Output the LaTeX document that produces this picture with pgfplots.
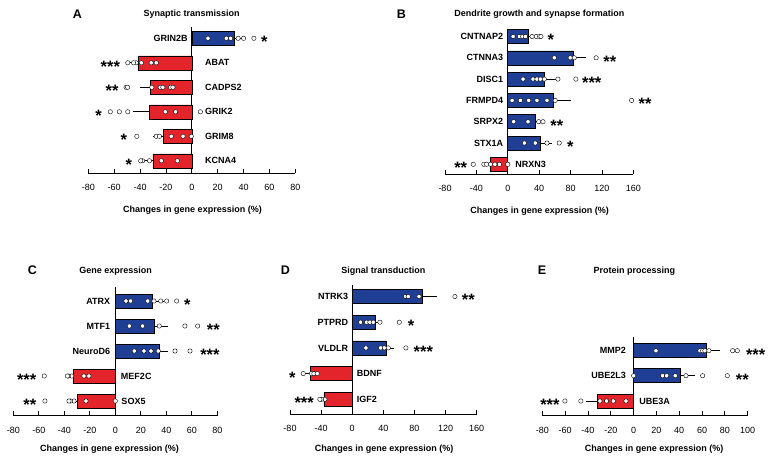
\documentclass[border=0pt]{standalone}
\usepackage{fontspec}
\setmainfont{Liberation Sans}
\usepackage{pgfplots}
\pgfplotsset{compat=1.18}
\definecolor{barblue}{HTML}{1F3F95}
\definecolor{barred}{HTML}{E3242B}
\newcommand{\nf}{\fontsize{9bp}{10.5bp}\selectfont}
\pgfplotsset{
  panel/.style={
    scale only axis, anchor=south west,
    enlargelimits=false, clip=false,
    axis x line=bottom, axis y line=none,
    x axis line style={-, line width=0.8bp},
    tick align=inside, major tick length=4.5bp,
    tick style={black, line width=0.8bp},
    ytick=\empty,
    xticklabel style={font=\nf, yshift=-7.5bp},
    /pgf/number format/assume math mode=true,
    extra x ticks={0}, extra x tick labels={},
    extra x tick style={grid=major, major grid style={black, line width=0.8bp}},
  },
  posbar/.style={xbar, bar width=14, fill=barblue, draw=black, line width=0.6bp,
    error bars/.cd, x dir=plus, x explicit,
    error bar style={black, line width=0.8bp},
    error mark options={black, mark size=3.8bp, line width=0.8bp}},
  negbar/.style={xbar, bar width=14, fill=barred, draw=black, line width=0.6bp,
    error bars/.cd, x dir=minus, x explicit,
    error bar style={black, line width=0.8bp},
    error mark options={black, mark size=3.8bp, line width=0.8bp}},
  dots/.style={only marks, mark=*, mark size=2.2bp,
    mark options={fill=white, draw=black, line width=0.4bp}},
}
\tikzset{
  st/.style={font=\fontsize{16.5bp}{16.5bp}\selectfont\bfseries, yshift=-3.8bp, inner sep=0},
  gl/.style={font=\nf\bfseries, inner sep=0},
  ttl/.style={font=\nf\bfseries, inner sep=0},
  let/.style={font=\fontsize{12.5bp}{14bp}\selectfont\bfseries, inner sep=0},
}
\begin{document}
\begin{tikzpicture}
\path[use as bounding box] (0,0) rectangle (770bp,-460bp);
% ---------------- Panel A
\begin{axis}[panel, at={(88.3bp,-173bp)}, width=207bp, height=146bp,
  xmin=-80, xmax=80, ymin=-173, ymax=-27, xtick={-80,-60,...,80}]
\addplot[posbar] coordinates {(33.2,-38.3) +- (4,0)};
\addplot[negbar] coordinates {(-41.7,-62.8) +- (3.5,0) (-31.9,-87.3) +- (5.5,0)
  (-32.7,-111.8) +- (9.8,0) (-21.8,-136.3) +- (5,0) (-30.1,-160.8) +- (4,0)};
\addplot[dots] coordinates {
  (12.5,-38.3) (26.7,-38.3) (30,-38.3) (35.8,-38.3) (40,-38.3) (48,-38.3)
  (-31.4,-62.8) (-27.5,-62.8) (-39,-62.8) (-43,-62.8) (-45,-62.8) (-49.5,-62.8)
  (-30.9,-87.3) (-24.4,-87.3) (-22.4,-87.3) (-16.4,-87.3) (-14.6,-87.3) (-50.8,-87.3) (-49.6,-87.3)
  (-20.5,-111.8) (-12.5,-111.8) (6.6,-111.8) (-49.5,-111.8) (-56,-111.8) (-63,-111.8)
  (-15.9,-136.3) (-6.8,-136.3) (-0.4,-136.3) (-27.5,-136.3) (-25,-136.3) (-42.5,-136.3)
  (-23.6,-160.8) (-11.2,-160.8) (-32.7,-160.8) (-38,-160.8) (-39.5,-160.8)};
\node[st] at (axis cs:56,-38.3) {*};
\node[st] at (axis cs:-63,-62.8) {***};
\node[st] at (axis cs:-61.6,-87.3) {**};
\node[st] at (axis cs:-72,-111.8) {*};
\node[st] at (axis cs:-52.6,-136.3) {*};
\node[st] at (axis cs:-48.7,-160.8) {*};
\node[gl, anchor=east, xshift=-4bp] at (axis cs:0,-38.3) {GRIN2B};
\node[gl, anchor=west, xshift=13bp] at (axis cs:0,-62.8) {ABAT};
\node[gl, anchor=west, xshift=13bp] at (axis cs:0,-87.3) {CADPS2};
\node[gl, anchor=west, xshift=13bp] at (axis cs:0,-111.8) {GRIK2};
\node[gl, anchor=west, xshift=13bp] at (axis cs:0,-136.3) {GRIM8};
\node[gl, anchor=west, xshift=13bp] at (axis cs:0,-160.8) {KCNA4};
\end{axis}
% ---------------- Panel B
\begin{axis}[panel, at={(445bp,-174bp)}, width=188.3bp, height=144bp,
  xmin=-80, xmax=160, ymin=-174, ymax=-30, xtick={-80,-40,...,160}]
\addplot[posbar] coordinates {(26.7,-36.5) +- (4,0) (83.8,-57.8) +- (11,0)
  (47,-79.1) +- (9.3,0) (58.4,-100.4) +- (17,0) (35.1,-121.7) +- (5,0) (41.5,-143) +- (10,0)};
\addplot[negbar] coordinates {(-22.9,-164.3) +- (5,0)};
\addplot[dots] coordinates {
  (6.8,-36.5) (14.8,-36.5) (19,-36.5) (22.4,-36.5) (31,-36.5) (36.4,-36.5) (40.6,-36.5) (42.3,-36.5)
  (59.3,-57.8) (79.6,-57.8) (84.7,-57.8) (112.6,-57.8)
  (19.5,-79.1) (32.2,-79.1) (37.2,-79.1) (41.5,-79.1) (46.6,-79.1) (63.9,-79.1) (86.8,-79.1)
  (5.5,-100.4) (16.1,-100.4) (26.7,-100.4) (37.2,-100.4) (50,-100.4) (60.5,-100.4) (157.9,-100.4)
  (7.6,-121.7) (25.8,-121.7) (39.4,-121.7) (44.9,-121.7)
  (21.2,-143) (35.1,-143) (50,-143) (65.6,-143)
  (-22,-164.3) (-16.5,-164.3) (-10.6,-164.3) (0,-164.3) (-30.5,-164.3) (-27,-164.3) (-44,-164.3)};
\node[st] at (axis cs:55,-36.5) {*};
\node[st] at (axis cs:130,-57.8) {**};
\node[st] at (axis cs:107,-79.1) {***};
\node[st] at (axis cs:175,-100.4) {**};
\node[st] at (axis cs:62.6,-121.7) {**};
\node[st] at (axis cs:79.6,-143) {*};
\node[st] at (axis cs:-60,-164.3) {**};
\node[gl, anchor=east, xshift=-4.5bp] at (axis cs:0,-36.5) {CNTNAP2};
\node[gl, anchor=east, xshift=-4.5bp] at (axis cs:0,-57.8) {CTNNA3};
\node[gl, anchor=east, xshift=-4.5bp] at (axis cs:0,-79.1) {DISC1};
\node[gl, anchor=east, xshift=-4.5bp] at (axis cs:0,-100.4) {FRMPD4};
\node[gl, anchor=east, xshift=-4.5bp] at (axis cs:0,-121.7) {SRPX2};
\node[gl, anchor=east, xshift=-4.5bp] at (axis cs:0,-143) {STX1A};
\node[gl, anchor=west, xshift=7.5bp] at (axis cs:0,-164.3) {NRXN3};
\end{axis}
% ---------------- Panel C
\begin{axis}[panel, at={(13.3bp,-415.7bp)}, width=204bp, height=129bp,
  xmin=-80, xmax=80, ymin=-415.7, ymax=-286.7, xtick={-80,-60,...,80}]
\addplot[posbar] coordinates {(29,-301) +- (6,0) (30.3,-326) +- (8,0) (34.5,-351) +- (4,0)};
\addplot[negbar] coordinates {(-32.9,-376) +- (3,0) (-29.5,-401) +- (4,0)};
\addplot[dots] coordinates {
  (8.4,-301) (12,-301) (25.4,-301) (30.3,-301) (35.6,-301) (40.3,-301) (48.1,-301)
  (11,-326) (21.4,-326) (34.5,-326) (54.6,-326) (64.6,-326)
  (14.9,-351) (22.5,-351) (28,-351) (33.7,-351) (46.8,-351) (58.6,-351)
  (-24.6,-376) (-20.7,-376) (-34.2,-376) (-36.9,-376) (-37.6,-376) (-55.7,-376)
  (-23,-401) (0,-401) (-32.4,-401) (-35,-401) (-36.3,-401) (-55.2,-401)};
\node[st] at (axis cs:56.5,-301) {*};
\node[st] at (axis cs:76.9,-326) {**};
\node[st] at (axis cs:74.2,-351) {***};
\node[st] at (axis cs:-69.5,-376) {***};
\node[st] at (axis cs:-67,-401) {**};
\node[gl, anchor=east, xshift=-5bp] at (axis cs:0,-301) {ATRX};
\node[gl, anchor=east, xshift=-5bp] at (axis cs:0,-326) {MTF1};
\node[gl, anchor=east, xshift=-5bp] at (axis cs:0,-351) {NeuroD6};
\node[gl, anchor=west, xshift=5.5bp] at (axis cs:0,-376) {MEF2C};
\node[gl, anchor=west, xshift=6bp] at (axis cs:0,-401) {SOX5};
\end{axis}
% ---------------- Panel D
\begin{axis}[panel, at={(290bp,-414bp)}, width=186.7bp, height=129bp,
  xmin=-80, xmax=160, ymin=-414, ymax=-285, xtick={-80,-40,...,160}]
\addplot[posbar] coordinates {(90.5,-296.5) +- (13.7,0) (30,-322.2) +- (4,0) (43.3,-347.9) +- (5,0)};
\addplot[negbar] coordinates {(-53.6,-373.6) +- (3,0) (-36.5,-399.3) +- (3,0)};
\addplot[dots] coordinates {
  (68.6,-296.5) (72,-296.5) (85.8,-296.5) (132,-296.5)
  (10.7,-322.2) (18.4,-322.2) (22.7,-322.2) (27,-322.2) (35.6,-322.2) (60.5,-322.2)
  (17.6,-347.9) (36.5,-347.9) (41.2,-347.9) (46.3,-347.9) (69,-347.9)
  (-52.3,-373.6) (-49.3,-373.6) (-45,-373.6) (-63,-373.6)
  (-35.2,-399.3) (-39.5,-399.3) (-41.6,-399.3)};
\node[st] at (axis cs:149.3,-296.5) {**};
\node[st] at (axis cs:75.5,-322.2) {*};
\node[st] at (axis cs:91.4,-347.9) {***};
\node[st] at (axis cs:-77,-373.6) {*};
\node[st] at (axis cs:-61.8,-399.3) {***};
\node[gl, anchor=east, xshift=-4bp] at (axis cs:0,-296.5) {NTRK3};
\node[gl, anchor=east, xshift=-4bp] at (axis cs:0,-322.2) {PTPRD};
\node[gl, anchor=east, xshift=-4bp] at (axis cs:0,-347.9) {VLDLR};
\node[gl, anchor=west, xshift=4.5bp] at (axis cs:0,-373.6) {BDNF};
\node[gl, anchor=west, xshift=4.5bp] at (axis cs:0,-399.3) {IGF2};
\end{axis}
% ---------------- Panel E
\begin{axis}[panel, at={(542.3bp,-415.7bp)}, width=205.4bp, height=79bp,
  xmin=-80, xmax=100, ymin=-415.7, ymax=-336.7, xtick={-80,-60,...,100}]
\addplot[posbar] coordinates {(64,-350.7) +- (8.2,0) (41.2,-375.7) +- (9.6,0)};
\addplot[negbar] coordinates {(-31.9,-401) +- (6.4,0)};
\addplot[dots] coordinates {
  (19.6,-350.7) (58.2,-350.7) (60.5,-350.7) (62.5,-350.7) (66,-350.7) (86.8,-350.7) (90.9,-350.7)
  (0,-375.7) (25.4,-375.7) (29,-375.7) (36.5,-375.7) (45.9,-375.7) (60.5,-375.7) (82.1,-375.7)
  (-29.5,-401) (-23.7,-401) (-17.8,-401) (-6.7,-401) (-46.2,-401) (-60.2,-401)};
\node[st] at (axis cs:107,-350.7) {***};
\node[st] at (axis cs:95.3,-375.7) {**};
\node[st] at (axis cs:-73.3,-401) {***};
\node[gl, anchor=east, xshift=-7.5bp] at (axis cs:0,-350.7) {MMP2};
\node[gl, anchor=east, xshift=-7.5bp] at (axis cs:0,-375.7) {UBE2L3};
\node[gl, anchor=west, xshift=5.5bp] at (axis cs:0,-401) {UBE3A};
\end{axis}
% ---------------- letters, titles, x labels
\node[let] at (77.5bp,-13.8bp) {A};
\node[let] at (401.5bp,-13.8bp) {B};
\node[let] at (32.5bp,-270bp) {C};
\node[let] at (285.5bp,-270bp) {D};
\node[let] at (542bp,-270bp) {E};
\node[ttl] at (191.7bp,-14bp) {Synaptic transmission};
\node[ttl] at (539.3bp,-14bp) {Dendrite growth and synapse formation};
\node[ttl] at (115.7bp,-271bp) {Gene expression};
\node[ttl] at (383.3bp,-271bp) {Signal transduction};
\node[ttl] at (634.3bp,-271bp) {Protein processing};
\node[ttl] at (192.5bp,-210bp) {Changes in gene expression (\%)};
\node[ttl] at (539.7bp,-210.7bp) {Changes in gene expression (\%)};
\node[ttl] at (109.5bp,-449bp) {Changes in gene expression (\%)};
\node[ttl] at (384.2bp,-449bp) {Changes in gene expression (\%)};
\node[ttl] at (654.2bp,-449bp) {Changes in gene expression (\%)};
\end{tikzpicture}
\end{document}
